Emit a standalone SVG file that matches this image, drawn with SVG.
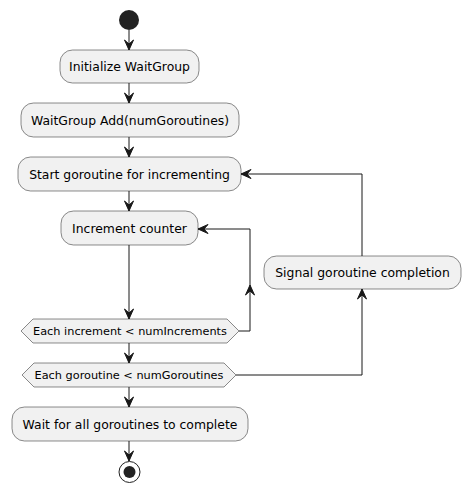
<svg xmlns="http://www.w3.org/2000/svg" width="470" height="493" viewBox="0 0 470 493">
<style>
.box{fill:#F1F1F1;stroke:#181818;stroke-width:0.5}
.t{font-family:"DejaVu Sans",sans-serif;font-size:12.4px;fill:#000;text-anchor:middle}
.d{font-family:"DejaVu Sans",sans-serif;font-size:11.3px;fill:#000;text-anchor:middle}
.e{fill:none;stroke:#181818;stroke-width:1}
.ah{fill:#181818;stroke:#181818;stroke-width:1}
</style>
<rect width="470" height="493" fill="#FFFFFF"/>
<g id="start"><circle cx="129" cy="20" r="10" fill="#222222"/></g>
<g id="init"><rect class="box" x="60" y="50" width="139" height="33" rx="12.5"/><text class="t" x="129.5" y="71">Initialize WaitGroup</text></g>
<g id="add"><rect class="box" x="21" y="103" width="218" height="34" rx="12.5"/><text class="t" x="130" y="124.5">WaitGroup Add(numGoroutines)</text></g>
<g id="startgo"><rect class="box" x="18" y="157" width="223" height="34" rx="12.5"/><text class="t" x="129.5" y="178.5">Start goroutine for incrementing</text></g>
<g id="inc"><rect class="box" x="61" y="211" width="137" height="34" rx="12.5"/><text class="t" x="129.5" y="232.5">Increment counter</text></g>
<g id="signal"><rect class="box" x="264" y="256" width="197" height="33" rx="12.5"/><text class="t" x="362.5" y="277">Signal goroutine completion</text></g>
<g id="dec1"><polygon class="box" points="33,319 227,319 239,331 227,343 33,343 21,331"/><text class="d" x="130" y="335">Each increment &lt; numIncrements</text></g>
<g id="dec2"><polygon class="box" points="34,363 224,363 236,375 224,387 34,387 22,375"/><text class="d" x="129" y="379">Each goroutine &lt; numGoroutines</text></g>
<g id="wait"><rect class="box" x="12" y="407" width="236" height="34" rx="12.5"/><text class="t" x="130" y="428.5">Wait for all goroutines to complete</text></g>
<g id="end"><circle cx="129.5" cy="472" r="10.5" fill="none" stroke="#222222" stroke-width="1"/><circle cx="129.5" cy="472" r="6" fill="#222222"/></g>
<g id="connectors">
<path class="e" d="M129,30 V50"/><polygon class="ah" points="124.5,40 129,50 133.5,40 129,44"/>
<path class="e" d="M129,83 V103"/><polygon class="ah" points="124.5,93 129,103 133.5,93 129,97"/>
<path class="e" d="M129,137 V157"/><polygon class="ah" points="124.5,147 129,157 133.5,147 129,151"/>
<path class="e" d="M129,191 V211"/><polygon class="ah" points="124.5,201 129,211 133.5,201 129,205"/>
<path class="e" d="M129,245 V319"/><polygon class="ah" points="124.5,309 129,319 133.5,309 129,313"/>
<path class="e" d="M129,343 V363"/><polygon class="ah" points="124.5,353 129,363 133.5,353 129,357"/>
<path class="e" d="M129,387 V407"/><polygon class="ah" points="124.5,397 129,407 133.5,397 129,401"/>
<path class="e" d="M129,441 V461"/><polygon class="ah" points="124.5,451 129,461 133.5,451 129,455"/>
<path class="e" d="M239,331 H250 V229 H198"/>
<polygon class="ah" points="245.5,295 250,285 254.5,295 250,291"/>
<polygon class="ah" points="208,224.5 198,229 208,233.5 204,229"/>
<path class="e" d="M236,375 H362 V289"/>
<polygon class="ah" points="357.5,299 362,289 366.5,299 362,295"/>
<path class="e" d="M362,256 V174 H241"/>
<polygon class="ah" points="251,169.5 241,174 251,178.5 247,174"/>
</g>
</svg>
